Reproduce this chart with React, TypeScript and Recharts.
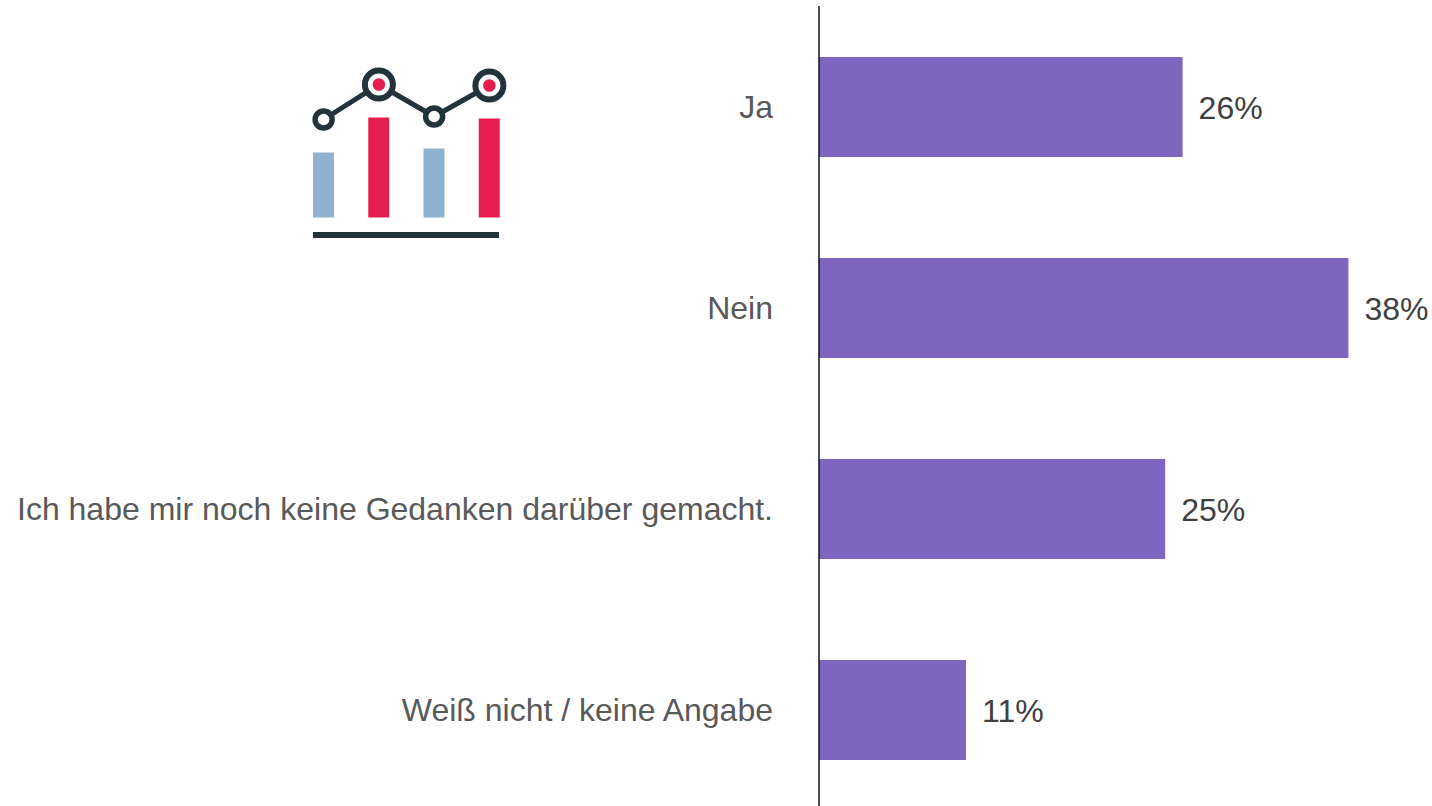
import { Bar, BarChart, ComposedChart, LabelList, Line, XAxis, YAxis, Cell } from 'recharts';

const categories = ['Ja', 'Nein', 'Ich habe mir noch keine Gedanken darüber gemacht.', 'Weiß nicht / keine Angabe'];
const shares = [26.1, 38, 24.85, 10.55];

// decorative icon, also a tiny chart
const iconSlots = ['a', 'b', 'c', 'd'];
const iconBars = [65, 100, 69, 99];
const iconLine = [98, 133, 101, 132];
const iconBarColors = ['#8fb2d0', '#e61e50', '#8fb2d0', '#e61e50'];

const rows = categories.map((name, i) => ({ name, share: shares[i] }));
const iconRows = iconSlots.map((slot, i) => ({ slot, bar: iconBars[i], line: iconLine[i] }));

const FONT = '"Liberation Sans", Arial, sans-serif';
const DARK = '#22333b';

function IconDot(props: any) {
  const { cx, cy, index } = props;
  const big = index % 2 === 1;
  return (
    <g key={index}>
      <circle cx={cx} cy={cy} r={big ? 14 : 8.5} fill="#fff" stroke={DARK} strokeWidth={big ? 6 : 5.5} />
      {big && <circle cx={cx} cy={cy} r={6.3} fill="#e61e50" />}
    </g>
  );
}

export default function App() {
  return (
    <div style={{ position: 'absolute', left: 0, top: 0, width: 1432, height: 806, overflow: 'hidden', background: '#fff' }}>
      <BarChart
        width={1432}
        height={810}
        data={rows}
        layout="vertical"
        margin={{ top: 6, right: 0, bottom: 0, left: 0 }}
        style={{ position: 'absolute', left: 0, top: 0 }}
      >
        <XAxis type="number" hide domain={[0, 44]} />
        <YAxis
          type="category"
          dataKey="name"
          width={819}
          interval={0}
          tickLine={false}
          tickSize={0}
          tickMargin={46}
          axisLine={{ stroke: '#111', strokeWidth: 1.5 }}
          tick={{ fill: '#595959', fontSize: 32, fontFamily: FONT }}
        />
        <Bar dataKey="share" fill="#7e65c0" barSize={100} isAnimationActive={false}>
          <LabelList
            dataKey="share"
            position="right"
            offset={16}
            dy={1}
            formatter={(v: any) => `${Math.round(v)}%`}
            style={{ fill: '#404040', fontSize: 32, fontFamily: FONT }}
          />
        </Bar>
      </BarChart>

      <ComposedChart
        width={221}
        height={167.5}
        data={iconRows}
        margin={{ top: 0, right: 0, bottom: 0, left: 0 }}
        style={{ position: 'absolute', left: 295.5, top: 50 }}
      >
        <XAxis dataKey="slot" hide />
        <YAxis hide domain={[0, 167.5]} />
        <Bar dataKey="bar" barSize={21} isAnimationActive={false}>
          {iconRows.map((r, i) => (
            <Cell key={r.slot} fill={iconBarColors[i]} />
          ))}
        </Bar>
        <Line dataKey="line" stroke={DARK} strokeWidth={5} type="linear" dot={<IconDot />} activeDot={false} isAnimationActive={false} />
      </ComposedChart>
      <div style={{ position: 'absolute', left: 313, top: 232, width: 186, height: 6, background: DARK }} />
    </div>
  );
}
